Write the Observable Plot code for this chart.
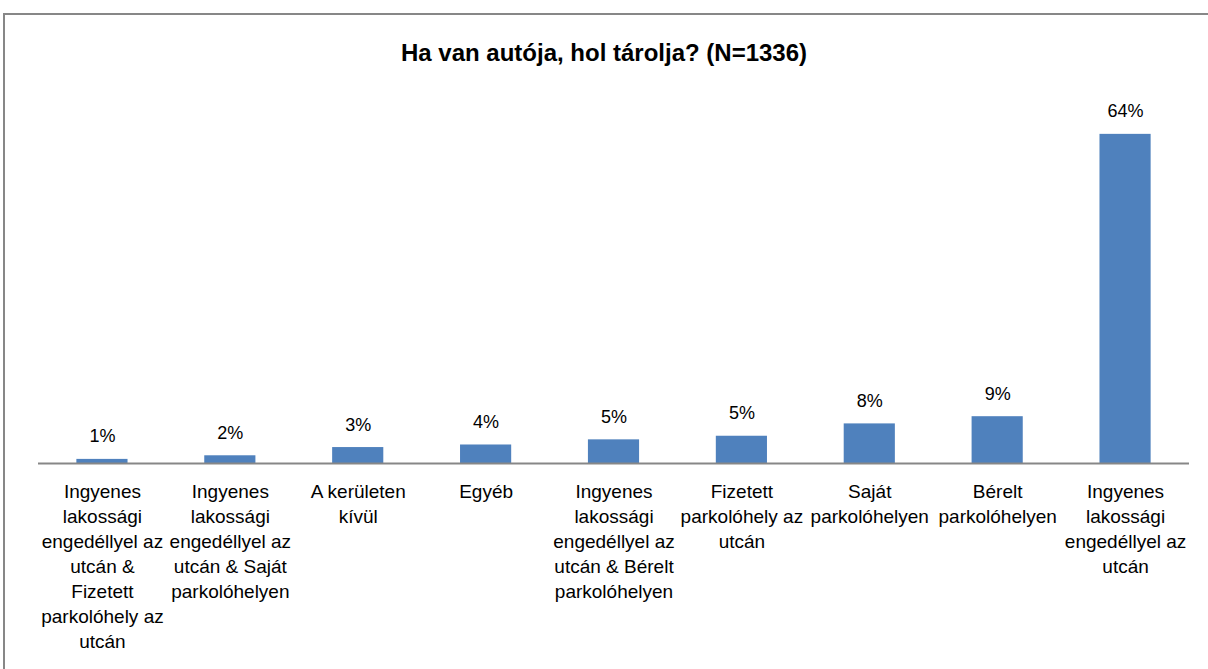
<!DOCTYPE html>
<html><head><meta charset="utf-8">
<script src="https://cdn.jsdelivr.net/npm/d3@7"></script>
<script src="https://cdn.jsdelivr.net/npm/@observablehq/plot@0.6"></script>
<style>
html,body{margin:0;padding:0;background:#fff;width:1208px;height:669px;overflow:hidden;position:relative;font-family:"Liberation Sans",Arial,sans-serif;}
#frame{position:absolute;left:3px;top:13px;width:1220px;height:700px;border:2px solid #878787;box-sizing:border-box;}
#title{position:absolute;left:0;top:38px;width:1208px;text-align:center;font-weight:bold;font-size:24px;line-height:30px;color:#000;}
#chart{position:absolute;left:0;top:80px;}
</style></head><body>
<div id="frame"></div>
<div id="title">Ha van autója, hol tárolja? (N=1336)</div>
<div id="chart"></div>
<script>
const categories = [
  "Ingyenes lakossági engedéllyel az utcán & Fizetett parkolóhely az utcán",
  "Ingyenes lakossági engedéllyel az utcán & Saját parkolóhelyen",
  "A kerületen kívül",
  "Egyéb",
  "Ingyenes lakossági engedéllyel az utcán & Bérelt parkolóhelyen",
  "Fizetett parkolóhely az utcán",
  "Saját parkolóhelyen",
  "Bérelt parkolóhelyen",
  "Ingyenes lakossági engedéllyel az utcán"
];
const values = [0.8, 1.5, 3.1, 3.6, 4.6, 5.3, 7.7, 9.1, 64.0];
const valueLabels = ["1%", "2%", "3%", "4%", "5%", "5%", "8%", "9%", "64%"];
const tickLabels = [
  "Ingyenes\nlakossági\nengedéllyel az\nutcán &\nFizetett\nparkolóhely az\nutcán",
  "Ingyenes\nlakossági\nengedéllyel az\nutcán & Saját\nparkolóhelyen",
  "A kerületen\nkívül",
  "Egyéb",
  "Ingyenes\nlakossági\nengedéllyel az\nutcán & Bérelt\nparkolóhelyen",
  "Fizetett\nparkolóhely az\nutcán",
  "Saját\nparkolóhelyen",
  "Bérelt\nparkolóhelyen",
  "Ingyenes\nlakossági\nengedéllyel az\nutcán"
];

const data = categories.map((c, i) => ({category: c, value: values[i], label: valueLabels[i]}));
const tickMap = new Map(categories.map((c, i) => [c, tickLabels[i]]));

const chart = Plot.plot({
  width: 1208,
  height: 600,
  marginLeft: 38,
  marginRight: 19,
  marginTop: 23,
  marginBottom: 217,
  style: {fontFamily: '"Liberation Sans", Arial, sans-serif', fontSize: "19px", color: "#000", background: "transparent", overflow: "visible"},
  x: {domain: categories, paddingInner: 0.6, paddingOuter: 0.3, round: false, label: null},
  y: {domain: [0, 70], axis: null},
  marks: [
    Plot.barY(data, {x: "category", y: "value", fill: "#4F81BD"}),
    Plot.ruleY([0], {stroke: "#878787", strokeWidth: 2}),
    Plot.text(data, {x: "category", y: "value", text: "label", lineAnchor: "bottom", dy: -17, fontSize: 18, fill: "#000"}),
    Plot.axisX({tickSize: 0, tickPadding: 17, tickFormat: d => tickMap.get(d), fontSize: 19, lineHeight: 25 / 19, label: null, fill: "#000"})
  ]
});
document.getElementById("chart").appendChild(chart);
</script>
</body></html>
